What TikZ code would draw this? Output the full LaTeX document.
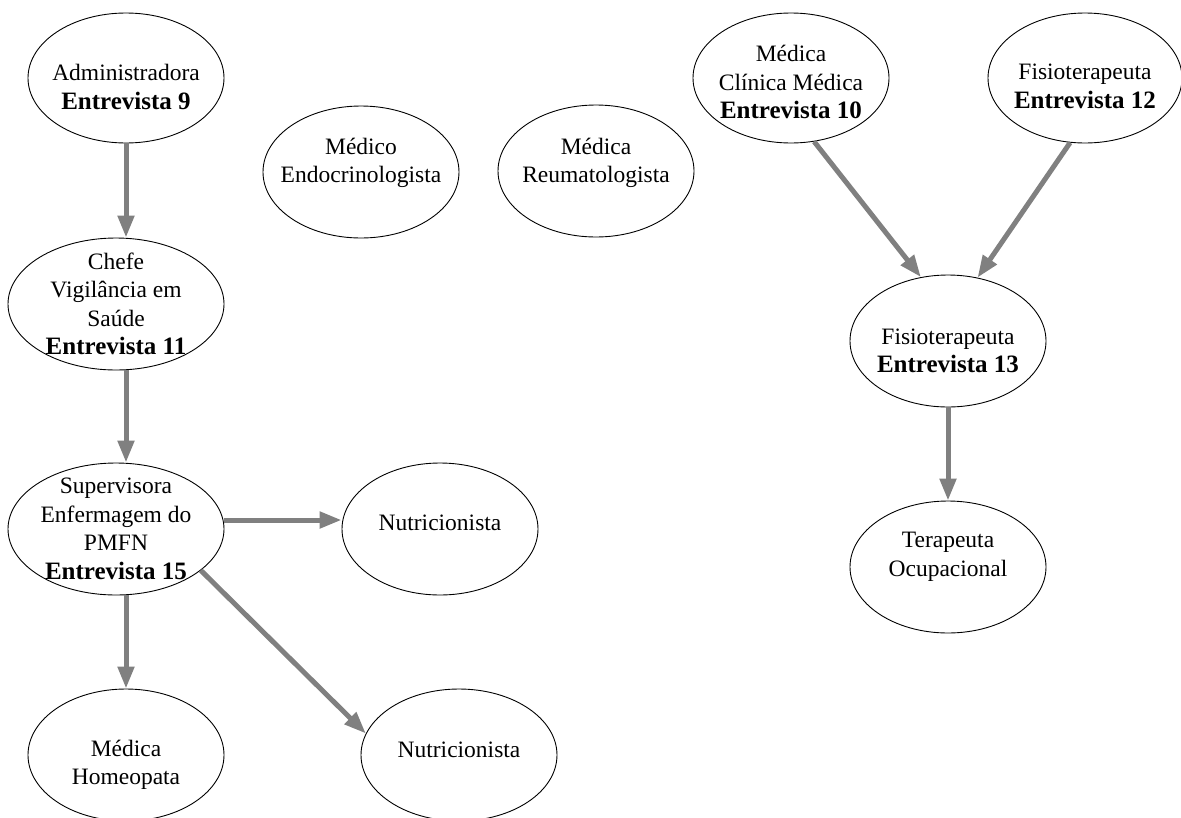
\documentclass[tikz,border=0pt]{standalone}
\usepackage{fontspec}
\setmainfont{Liberation Serif}
\usetikzlibrary{arrows.meta,shapes.geometric}
\definecolor{edgegray}{RGB}{128,128,128}
\newcommand\entrv[1]{{\fontsize{25}{28.5}\selectfont\bfseries #1}}
\begin{document}
\begin{tikzpicture}[x=1pt,y=-1pt,
  ell/.style={draw=black, line width=0.9pt, ellipse, inner sep=0pt, minimum width=196pt, minimum height=130pt},
  wide/.style={minimum width=216pt, minimum height=132pt},
  txt/.style={font=\fontsize{23.5}{28.5}\selectfont, align=center, inner sep=0pt},
  conn/.style={draw=edgegray, line width=5pt, -{Triangle[length=22pt,width=16pt]}}
]
\useasboundingbox (0,0) rectangle (1181,817);

% left column
\node[ell, label={[txt, yshift=-9pt]center:{Administradora\\\entrv{Entrevista 9}}}] (admin) at (126,78) {};
\node[ell, minimum height=132pt, label={[txt, yshift=9pt]center:{Médico\\Endocrinologista}}] (endo) at (361,172) {};
\node[ell, minimum height=132pt, label={[txt, yshift=8pt]center:{Médica\\Reumatologista}}] (reum) at (596,171) {};
\node[ell, wide, label={[txt]center:{Chefe\\Vigilância em\\Saúde\\\entrv{Entrevista 11}}}] (chefe) at (116,304) {};
\node[ell, wide, label={[txt]center:{Supervisora\\Enfermagem do\\PMFN\\\entrv{Entrevista 15}}}] (sup) at (116,529) {};
\node[ell, minimum height=132pt, label={[txt, yshift=6pt]center:{Nutricionista}}] (nut1) at (440,529) {};
\node[ell, minimum height=132pt, label={[txt, yshift=-10pt]center:{Médica\\Homeopata}}] (homeo) at (126,755) {};
\node[ell, minimum height=132pt, label={[txt, yshift=5pt]center:{Nutricionista}}] (nut2) at (459,755) {};

% right part
\node[ell, label={[txt, yshift=-4pt]center:{Médica\\Clínica Médica\\\entrv{Entrevista 10}}}] (clin) at (791,78) {};
\node[ell, minimum width=194pt, label={[txt, yshift=-8.5pt]center:{Fisioterapeuta\\\entrv{Entrevista 12}}}] (fis12) at (1085,78) {};
\node[ell, minimum height=132pt, label={[txt, yshift=-10pt]center:{Fisioterapeuta\\\entrv{Entrevista 13}}}] (fis13) at (948,341) {};
\node[ell, minimum height=132pt, label={[txt, yshift=10pt]center:{Terapeuta\\Ocupacional}}] (terap) at (948,567) {};

% connectors
\draw[conn] (admin.south) -- (admin.south |- chefe.north);
\draw[conn] ([xshift=10pt]chefe.south) -- ([xshift=10pt]sup.north);
\draw[conn] ([yshift=9pt]sup.east) -- ([yshift=9pt]nut1.west);
\draw[conn] ([xshift=10pt]sup.south) -- (homeo.north);
\draw[conn] (sup.-26) -- (nut2.167);
\draw[conn] (clin.-70) -- (fis13.113);
\draw[conn] (fis12.257) -- (fis13.65);
\draw[conn] (fis13.south) -- (terap.north);
\end{tikzpicture}
\end{document}
